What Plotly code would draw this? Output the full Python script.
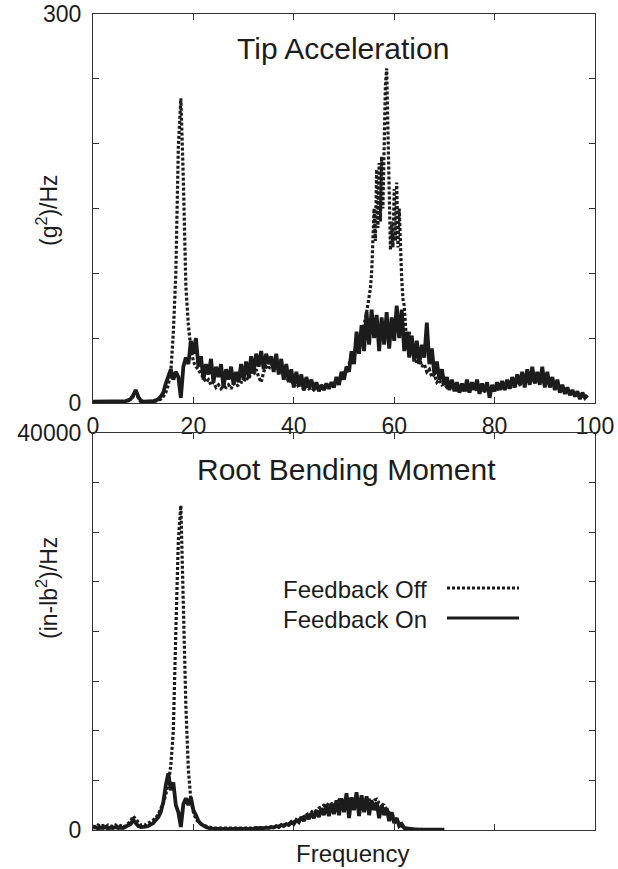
import numpy as np
import plotly.graph_objects as go

# Frequency bins: 0.5 Hz spacing, with a finer 0.25 Hz stretch around the
# second tip-acceleration mode (55-62 Hz) for the "feedback off" run.
DF = 0.5

# Tip acceleration PSD, (g^2)/Hz, feedback off
tip_off_low = [          # 0 .. 54.5 Hz, 0.5 Hz steps
    0.5, 0.5, 0.5, 0.5, 0.5, 0.5, 0.5, 0.5, 0.5, 0.5,
    0.5, 0.5, 0.5, 1, 2, 3, 5, 10, 4, 1,
    1, 1, 1, 1, 1, 1.5, 2, 3, 5, 8,
    14, 24, 54, 100, 197, 235, 172, 90, 60, 42,
    32, 28, 26, 22, 20, 16, 18, 14, 16, 12,
    14, 11, 13, 12, 14, 11, 15, 13, 14, 16,
    16, 20, 18, 24, 22, 26, 20, 16, 24, 28,
    26, 30, 28, 30, 24, 26, 20, 22, 16, 18,
    14, 16, 12, 14, 10, 13, 11, 12, 10, 12,
    10, 12, 11, 13, 12, 14, 14, 17, 17, 20,
    22, 26, 30, 36, 38, 45, 48, 55, 60, 70,
]
tip_off_mode = [         # 55 .. 61.75 Hz, 0.25 Hz steps
    80, 88, 100, 120, 150, 125, 180, 135, 185, 140,
    190, 150, 215, 245, 258, 200, 150, 118, 140, 120,
    165, 125, 170, 120, 150, 110, 95, 80,
]
tip_off_high = [         # 62 .. 98.5 Hz, 0.5 Hz steps
    75, 45, 55, 40, 42, 30,
    35, 28, 30, 24, 26, 20, 22, 16, 18, 14,
    15, 12, 13, 11, 12, 10, 11, 10, 11, 10,
    10, 11, 10, 11, 9, 10, 9, 10, 9, 10,
    10, 11, 10, 12, 11, 12, 12, 13, 13, 14,
    14, 16, 15, 17, 16, 18, 17, 18, 16, 17,
    15, 16, 14, 14, 12, 12, 10, 10, 9, 9,
    8, 8, 7, 7, 6, 6, 5, 5,
]

# Tip acceleration PSD, (g^2)/Hz, feedback on, 0 .. 98.5 Hz
tip_on = [
    1, 1, 1, 1, 1, 1, 1, 1, 1, 1,
    1, 1, 1, 1.5, 2, 3, 6, 10, 5, 2,
    1, 1, 1, 1, 1.5, 2, 3, 5, 8, 15,
    20, 26, 18, 24, 20, 4, 28, 35, 30, 48,
    38, 50, 28, 36, 18, 30, 22, 34, 16, 28,
    20, 30, 12, 26, 18, 28, 14, 24, 16, 30,
    18, 32, 20, 36, 24, 38, 28, 40, 26, 38,
    30, 36, 24, 38, 22, 34, 18, 30, 16, 26,
    12, 24, 14, 22, 10, 20, 12, 18, 10, 16,
    9, 14, 10, 15, 11, 16, 12, 20, 14, 24,
    18, 28, 24, 40, 30, 55, 38, 60, 40, 70,
    45, 72, 50, 68, 40, 66, 45, 70, 42, 66,
    48, 75, 50, 72, 40, 55, 35, 52, 32, 48,
    30, 45, 35, 62, 30, 42, 22, 32, 18, 26,
    14, 20, 10, 18, 9, 16, 8, 15, 9, 18,
    8, 16, 10, 18, 7, 15, 9, 16, 4, 14,
    9, 16, 10, 17, 10, 18, 11, 20, 12, 22,
    14, 24, 12, 26, 14, 28, 15, 24, 14, 28,
    12, 24, 12, 20, 10, 18, 8, 14, 7, 12,
    6, 10, 5, 9, 3, 8, 4, 6,
]

# Root bending moment PSD, (in-lb^2)/Hz, 0 .. 70 Hz
root_off = [
    400, 300, 500, 350, 450, 300, 500, 400, 350, 500,
    300, 450, 350, 400, 600, 900, 1400, 1100, 700, 500,
    600, 500, 700, 800, 1000, 1200, 1600, 2100, 2700, 3600,
    4700, 6500, 10000, 20000, 29200, 32700, 22000, 12500, 6000, 3000,
    1800, 1100, 800, 600, 500, 400, 300, 250, 200, 200,
    150, 200, 150, 200, 150, 200, 150, 200, 150, 200,
    150, 200, 150, 200, 200, 250, 200, 250, 200, 250,
    250, 300, 300, 350, 400, 450, 500, 600, 650, 750,
    800, 900, 1000, 1200, 1300, 1500, 1700, 1800, 2000, 1900,
    2200, 2300, 2500, 2400, 2700, 2600, 2800, 2600, 3000, 2700,
    3000, 2800, 3100, 2900, 3200, 2800, 3300, 2800, 3200, 2600,
    3100, 2700, 3000, 3100, 2700, 2600, 2500, 2000, 1700, 1500,
    1300, 1000, 700, 400, 250, 150, 100, 80, 60, 50,
    50, 50, 40, 40, 40, 30, 30, 30, 30, 30,
    30,
]
root_on = [
    200, 300, 150, 250, 200, 300, 150, 250, 200, 300,
    200, 250, 200, 300, 400, 600, 1000, 700, 400, 300,
    300, 350, 400, 500, 700, 1000, 1300, 1800, 2800, 4500,
    5700, 4000, 4800, 2500, 1800, 300, 2600, 3200, 2500, 3300,
    2000, 1500, 900, 600, 400, 300, 200, 150, 120, 100,
    100, 80, 100, 80, 100, 80, 100, 80, 100, 90,
    100, 120, 100, 150, 120, 180, 150, 200, 180, 250,
    200, 300, 250, 400, 300, 500, 400, 600, 500, 800,
    600, 1000, 800, 1300, 900, 1500, 1100, 1700, 1200, 2000,
    1300, 2200, 1500, 2500, 1400, 2700, 1600, 3000, 1500, 3200,
    1800, 3700, 1200, 3300, 2000, 3800, 1400, 3500, 1800, 3400,
    1500, 3000, 2000, 2800, 1200, 2500, 1500, 2200, 900, 1800,
    700, 1200, 400, 600, 200, 150, 100, 60, 50, 40,
    40, 30, 30, 30, 30, 30, 30, 30, 30, 30,
    30,
]

tip_off = tip_off_low + tip_off_mode + tip_off_high
freq_tip_off = np.concatenate([
    np.arange(len(tip_off_low)) * DF,
    55.0 + np.arange(len(tip_off_mode)) * (DF / 2),
    62.0 + np.arange(len(tip_off_high)) * DF,
])
freq_tip_on = np.arange(len(tip_on)) * DF
freq_root = np.arange(len(root_off)) * DF

x_ticks = [0, 20, 40, 60, 80, 100]
tip_ticks, tip_labels = [0, 300], ["0", "300"]
root_ticks, root_labels = [0, 40000], ["0", "40000"]

INK = "#1c1c1c"
FRAME = "#333"
FONT = "Liberation Sans, Arial, Helvetica, sans-serif"
DOTTED = "3px,2px"

fig = go.Figure()
fig.add_trace(go.Scatter(x=freq_tip_off, y=tip_off, mode="lines", xaxis="x", yaxis="y",
                         line=dict(color=INK, width=3.2, dash=DOTTED), name="Feedback Off"))
fig.add_trace(go.Scatter(x=freq_tip_on, y=tip_on, mode="lines", xaxis="x", yaxis="y",
                         line=dict(color=INK, width=3.8), name="Feedback On"))
fig.add_trace(go.Scatter(x=freq_root, y=root_off, mode="lines", xaxis="x2", yaxis="y2",
                         line=dict(color=INK, width=3.2, dash=DOTTED), name="Feedback Off"))
fig.add_trace(go.Scatter(x=freq_root, y=root_on, mode="lines", xaxis="x2", yaxis="y2",
                         line=dict(color=INK, width=3.8), name="Feedback On"))

W, H = 618, 869


def px(x):
    return x / W


def py(y):
    return 1 - y / H


axis_common = dict(
    showline=True, linecolor=FRAME, linewidth=1.2, mirror="ticks",
    ticks="inside", ticklen=6, tickwidth=1, tickcolor=FRAME,
    showgrid=False, zeroline=False, automargin=False,
    tickfont=dict(family=FONT, size=23, color=INK),
)


def minor_ticks(step):
    return dict(ticks="inside", ticklen=6, tickwidth=1, tickcolor=FRAME,
                tick0=0, dtick=step, showgrid=False)


x_dom = [px(93), px(595)]

fig.update_layout(
    width=W, height=H, autosize=False,
    margin=dict(l=0, r=0, t=0, b=0, autoexpand=False),
    paper_bgcolor="white", plot_bgcolor="white",
    showlegend=False,
    xaxis=dict(domain=x_dom, range=[0, 100], tickvals=x_ticks, anchor="y",
               ticklabelstandoff=2, **axis_common),
    yaxis=dict(domain=[py(403), py(14)], range=[0, 300], tickvals=tip_ticks,
               ticktext=tip_labels, minor=minor_ticks(50), anchor="x",
               ticklabelstandoff=6, **axis_common),
    xaxis2=dict(domain=x_dom, range=[0, 100], tickvals=x_ticks, anchor="y2",
                showticklabels=False, **axis_common),
    yaxis2=dict(domain=[py(830), py(433)], range=[0, 40000], tickvals=root_ticks,
                ticktext=root_labels, minor=minor_ticks(5000), anchor="x2",
                ticklabelstandoff=6, **axis_common),
)

text_font = dict(family=FONT, color=INK)
for text, xc, yc, size in [("Tip Acceleration", 343, 48, 30),
                           ("Root Bending Moment", 346, 470, 30),
                           ("Frequency", 352, 853, 24)]:
    fig.add_annotation(text=text, x=px(xc), y=py(yc), xref="paper", yref="paper",
                       showarrow=False, xanchor="center", yanchor="middle",
                       font=dict(size=size, **text_font))

# rotated axis titles
for text, yc in [("(g<sup>2</sup>)/Hz", 210), ("(in-lb<sup>2</sup>)/Hz", 588)]:
    fig.add_annotation(text=text, x=px(47), y=py(yc), xref="paper", yref="paper",
                       showarrow=False, textangle=-90, xanchor="center", yanchor="middle",
                       font=dict(size=23, **text_font))

# legend: label on the left, line sample on the right
legend_rows = [("Feedback Off", 589, DOTTED), ("Feedback On", 619, "solid")]
for label, yrow, dash in legend_rows:
    fig.add_annotation(text=label, x=px(429), y=py(yrow), xref="paper", yref="paper",
                       showarrow=False, xanchor="right", yanchor="middle",
                       font=dict(size=24, **text_font))
    fig.add_shape(type="line", xref="paper", yref="paper",
                  x0=px(447), x1=px(519), y0=py(yrow - 1), y1=py(yrow - 1),
                  line=dict(color=INK, width=3.2, dash=dash))

fig.write_html("out.html")
